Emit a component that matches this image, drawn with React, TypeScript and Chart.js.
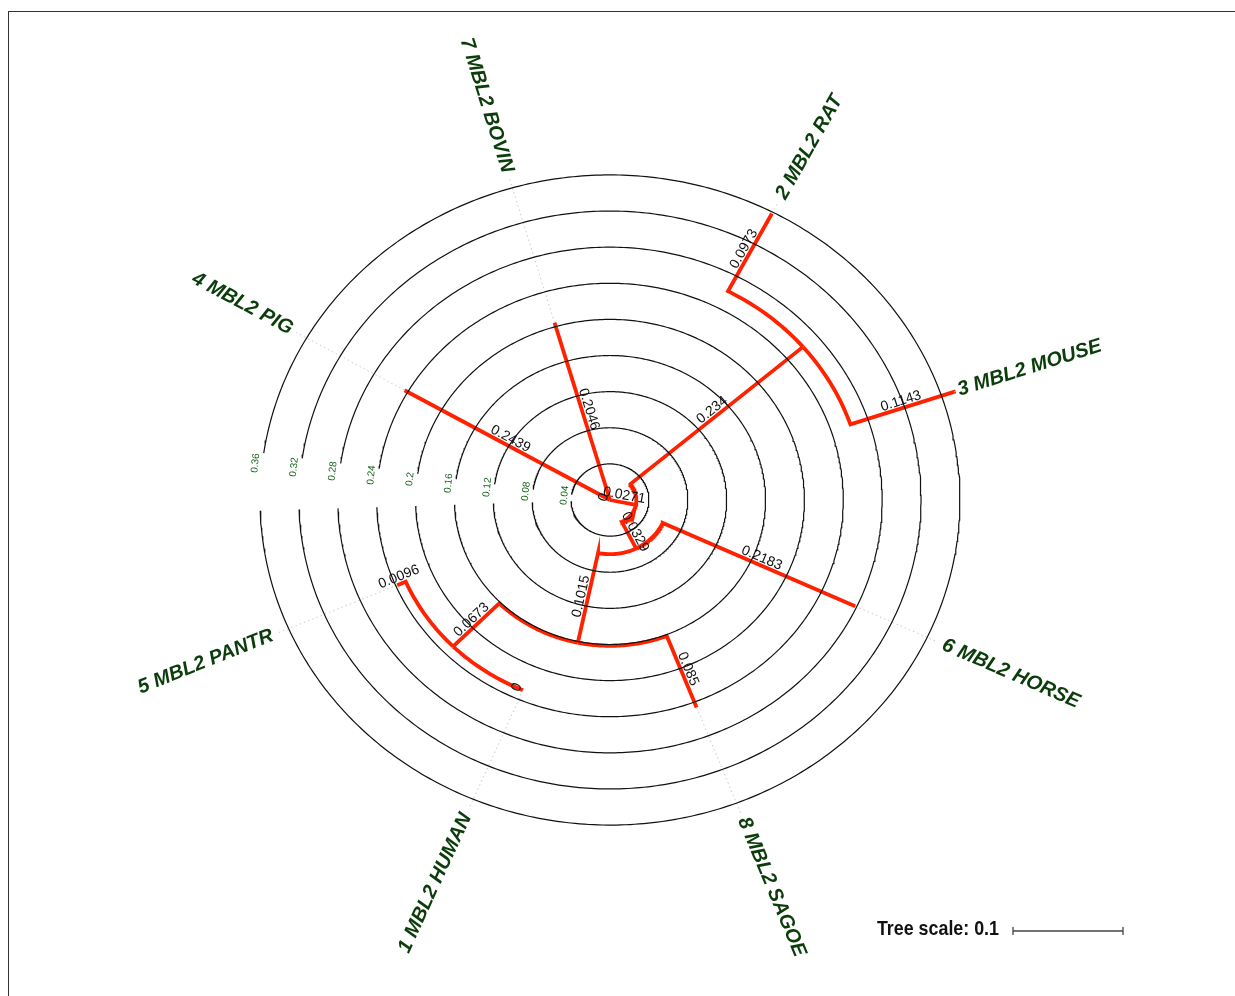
import React, { useEffect, useRef } from 'react';
import { Chart, registerables } from 'chart.js';

Chart.register(...registerables);

// Leaves, in drawing order around the circle, and their angular positions (degrees)
const leafNames = [
  '4 MBL2 PIG',
  '7 MBL2 BOVIN',
  '2 MBL2 RAT',
  '3 MBL2 MOUSE',
  '6 MBL2 HORSE',
  '8 MBL2 SAGOE',
  '1 MBL2 HUMAN',
  '5 MBL2 PANTR',
];
const leafAngles = [150.1, 106.2, 62.3, 18.7, -25.0, -68.8, -113.0, -156.7];

// Tree edges: child, parent, branch length
const edgeChild = [
  'root',
  '4 MBL2 PIG',
  '7 MBL2 BOVIN',
  'n1',
  'n2',
  '2 MBL2 RAT',
  '3 MBL2 MOUSE',
  'n3',
  '6 MBL2 HORSE',
  'n4',
  '8 MBL2 SAGOE',
  'n5',
  '1 MBL2 HUMAN',
  '5 MBL2 PANTR',
];
const edgeParent = [null, 'root', 'root', 'root', 'n1', 'n2', 'n2', 'n1', 'n3', 'n3', 'n4', 'n4', 'n5', 'n5'];
const branchLengths = [0, 0.2439, 0.2046, 0.0271, 0.234, 0.0973, 0.1143, 0.0329, 0.2183, 0.1015, 0.085, 0.0673, 0, 0.0096];

// Concentric distance rings
const ringValues = [0.04, 0.08, 0.12, 0.16, 0.2, 0.24, 0.28, 0.32, 0.36];
const ringLabels = ['0.04', '0.08', '0.12', '0.16', '0.2', '0.24', '0.28', '0.32', '0.36'];

const scaleBarValue = 0.1;
const scaleBarLabel = 'Tree scale: 0.1';

// ---- layout ----
const W = 1235;
const H = 996;
const CX = 610; // tree centre in px
const CY = 500;
const KX = 972; // px per unit of branch length, horizontal
const KY = 903; // vertical
const RING_START = -178.1;
const RING_END = 171.7;
const RING_LABEL_ANGLE = 173.6;
const LEADER_END = 0.372;
const LABEL_RADIUS = 0.378;

const BRANCH_COLOR = '#ff2200';
const LEAF_COLOR = '#0b3d0b';
const TICK_COLOR = '#16661a';

const rad = (d: number) => (d * Math.PI) / 180;
const pt = (r: number, deg: number) => ({ x: r * Math.cos(rad(deg)), y: r * Math.sin(rad(deg)) });

function arcPts(r: number, a0: number, a1: number) {
  const n = Math.max(1, Math.ceil(Math.abs(a1 - a0) / 0.75));
  const out: { x: number; y: number }[] = [];
  for (let i = 0; i <= n; i++) out.push(pt(r, a0 + ((a1 - a0) * i) / n));
  return out;
}

// Build node radius / angle table
function layoutTree() {
  const children: Record<string, string[]> = {};
  const len: Record<string, number> = {};
  edgeChild.forEach((c, i) => {
    len[c] = branchLengths[i];
    const p = edgeParent[i];
    if (p) (children[p] = children[p] || []).push(c);
  });
  const radius: Record<string, number> = {};
  const angle: Record<string, number> = {};
  const place = (id: string, r0: number) => {
    radius[id] = r0 + len[id];
    const kids = children[id] || [];
    kids.forEach((k) => place(k, radius[id]));
    if (kids.length === 0) angle[id] = leafAngles[leafNames.indexOf(id)];
    else angle[id] = (angle[kids[0]] + angle[kids[kids.length - 1]]) / 2;
  };
  place('root', 0);
  return { radius, angle };
}

export default function App() {
  const ref = useRef<HTMLCanvasElement | null>(null);

  useEffect(() => {
    const canvas = ref.current;
    if (!canvas) return;
    const { radius, angle } = layoutTree();

    const datasets: any[] = [];
    ringValues.forEach((v) => {
      datasets.push({
        data: arcPts(v, RING_START, RING_END),
        showLine: true,
        borderColor: '#111',
        borderWidth: 1.2,
        pointRadius: 0,
        tension: 0,
      });
    });
    leafNames.forEach((name) => {
      datasets.push({
        data: [pt(radius[name], angle[name]), pt(LEADER_END, angle[name])],
        showLine: true,
        borderColor: '#c9c9c9',
        borderWidth: 1,
        borderDash: [1.5, 3],
        pointRadius: 0,
      });
    });
    edgeChild.forEach((c, i) => {
      const p = edgeParent[i];
      if (!p) return;
      const d = arcPts(radius[p], angle[p], angle[c]);
      if (branchLengths[i] > 0) d.push(pt(radius[c], angle[c]));
      datasets.push({
        data: d,
        showLine: true,
        borderColor: BRANCH_COLOR,
        borderWidth: 3.8,
        borderJoinStyle: 'miter',
        borderCapStyle: 'butt',
        pointRadius: 0,
        tension: 0,
      });
    });

    const textPlugin = {
      id: 'treeText',
      afterDatasetsDraw(chart: any) {
        const ctx: CanvasRenderingContext2D = chart.ctx;
        const xs = chart.scales.x;
        const ys = chart.scales.y;
        const toPx = (r: number, deg: number) => {
          const q = pt(r, deg);
          return [xs.getPixelForValue(q.x), ys.getPixelForValue(q.y)];
        };
        const radialRot = (deg: number) => {
          const a = toPx(0, deg);
          const b = toPx(0.1, deg);
          return Math.atan2(b[1] - a[1], b[0] - a[0]);
        };
        const isLeft = (deg: number) => Math.cos(rad(deg)) < 0;

        // branch length labels
        ctx.save();
        ctx.fillStyle = '#111';
        ctx.font = '14px "Liberation Sans", Arial, sans-serif';
        ctx.textAlign = 'center';
        ctx.textBaseline = 'bottom';
        edgeChild.forEach((c, i) => {
          const p = edgeParent[i];
          const r0 = p ? radius[p] : 0;
          const r1 = radius[c];
          const a = angle[c];
          const [mx, my] = toPx((r0 + r1) / 2, a);
          let rot = radialRot(a);
          if (isLeft(a)) rot += Math.PI;
          ctx.save();
          ctx.translate(mx, my);
          ctx.rotate(rot);
          ctx.fillText(String(branchLengths[i]), 0, 0);
          ctx.restore();
        });
        ctx.restore();

        // leaf labels
        ctx.save();
        ctx.fillStyle = LEAF_COLOR;
        ctx.font = 'italic bold 20px "Liberation Sans", Arial, sans-serif';
        ctx.textBaseline = 'middle';
        leafNames.forEach((name) => {
          const a = angle[name];
          const [lx, ly] = toPx(LABEL_RADIUS, a);
          let rot = radialRot(a);
          ctx.save();
          ctx.translate(lx, ly);
          if (isLeft(a)) {
            rot += Math.PI;
            ctx.textAlign = 'right';
          } else {
            ctx.textAlign = 'left';
          }
          ctx.rotate(rot);
          ctx.fillText(name, 0, 0);
          ctx.restore();
        });
        ctx.restore();

        // ring value labels
        ctx.save();
        ctx.fillStyle = TICK_COLOR;
        ctx.font = '10px "Liberation Sans", Arial, sans-serif';
        ctx.textAlign = 'center';
        ctx.textBaseline = 'middle';
        ringValues.forEach((v, i) => {
          const [lx, ly] = toPx(v + 0.007, RING_LABEL_ANGLE);
          ctx.save();
          ctx.translate(lx, ly);
          ctx.rotate(radialRot(RING_LABEL_ANGLE) + Math.PI / 2);
          ctx.fillText(ringLabels[i], 0, 0);
          ctx.restore();
        });
        ctx.restore();

        // tree scale bar
        const area = chart.chartArea;
        const barLen = scaleBarValue * 1100; // px length of 0.1
        const bx1 = area.right - 112;
        const bx0 = bx1 - barLen;
        const by = area.bottom - 65;
        ctx.save();
        ctx.strokeStyle = '#444';
        ctx.lineWidth = 1.3;
        ctx.beginPath();
        ctx.moveTo(bx0, by);
        ctx.lineTo(bx1, by);
        ctx.moveTo(bx0, by - 4);
        ctx.lineTo(bx0, by + 4);
        ctx.moveTo(bx1, by - 4);
        ctx.lineTo(bx1, by + 4);
        ctx.stroke();
        ctx.fillStyle = '#111';
        ctx.font = 'bold 21px "Liberation Sans", Arial, sans-serif';
        ctx.textAlign = 'right';
        ctx.textBaseline = 'alphabetic';
        ctx.translate(bx0 - 14, by + 4);
        ctx.scale(0.85, 1);
        ctx.fillText(scaleBarLabel, 0, 0);
        ctx.restore();
      },
    };

    const chart = new Chart(canvas, {
      type: 'scatter',
      data: { datasets },
      options: {
        animation: false,
        responsive: false,
        maintainAspectRatio: false,
        layout: { padding: 0 },
        plugins: { legend: { display: false }, tooltip: { enabled: false } },
        events: [],
        scales: {
          x: { type: 'linear', display: false, min: -CX / KX, max: (W - CX) / KX },
          y: { type: 'linear', display: false, min: -(H - CY) / KY, max: CY / KY },
        },
        elements: { line: { tension: 0 } },
      },
      plugins: [textPlugin],
    });
    return () => chart.destroy();
  }, []);

  return (
    <div
      style={{
        position: 'fixed',
        left: 0,
        top: 0,
        width: W,
        height: H,
        overflow: 'hidden',
        background: '#fff',
      }}
    >
      <div
        style={{
          position: 'absolute',
          left: 8,
          top: 11,
          right: -10,
          bottom: -10,
          borderLeft: '1.5px solid #333',
          borderTop: '1.5px solid #333',
        }}
      />
      <canvas
        ref={ref}
        width={W}
        height={H}
        style={{ position: 'absolute', left: 0, top: 0, width: W, height: H }}
      />
    </div>
  );
}
